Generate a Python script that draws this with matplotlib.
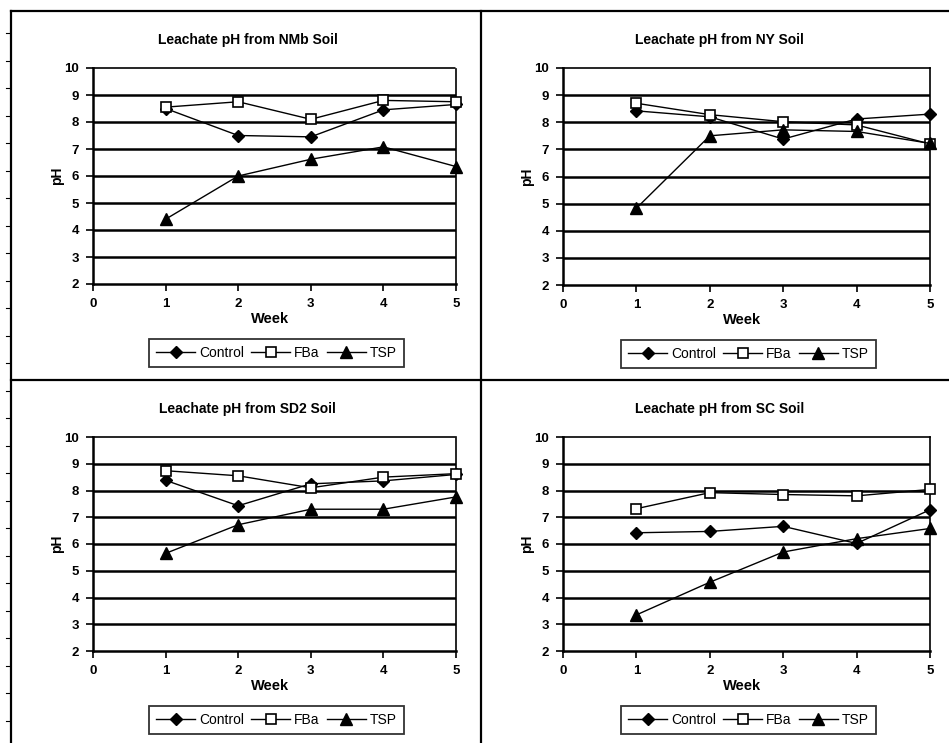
import numpy as np
import matplotlib
matplotlib.use("Agg")
import matplotlib.pyplot as plt
from matplotlib.lines import Line2D

plt.rcParams['font.family'] = ['Liberation Sans', 'DejaVu Sans']

W, H = 949, 743

weeks = [1, 2, 3, 4, 5]
series_names = ["Control", "FBa", "TSP"]

soils = ["NMb", "NY", "SD2", "SC"]

nmb_control = [8.5, 7.5, 7.45, 8.45, 8.65]
nmb_fba = [8.55, 8.75, 8.1, 8.8, 8.75]
nmb_tsp = [4.4, 6.0, 6.62, 7.08, 6.35]

ny_control = [8.42, 8.2, 7.38, 8.12, 8.3]
ny_fba = [8.7, 8.28, 8.02, 7.9, 7.2]
ny_tsp = [4.83, 7.5, 7.72, 7.66, 7.22]

sd2_control = [8.38, 7.43, 8.25, 8.36, 8.6]
sd2_fba = [8.74, 8.55, 8.1, 8.5, 8.63]
sd2_tsp = [5.65, 6.72, 7.3, 7.3, 7.76]

sc_control = [6.42, 6.47, 6.66, 6.02, 7.28]
sc_fba = [7.32, 7.92, 7.85, 7.8, 8.04]
sc_tsp = [3.35, 4.57, 5.7, 6.2, 6.58]

data = {
    "NMb": (nmb_control, nmb_fba, nmb_tsp),
    "NY": (ny_control, ny_fba, ny_tsp),
    "SD2": (sd2_control, sd2_fba, sd2_tsp),
    "SC": (sc_control, sc_fba, sc_tsp),
}

x_ticks = [0, 1, 2, 3, 4, 5]
y_ticks = [2, 3, 4, 5, 6, 7, 8, 9, 10]

# plot-area boxes in pixels: left, top, right, bottom
boxes = {
    "NMb": (93, 68, 456, 284),
    "NY": (563, 68, 930, 285),
    "SD2": (93, 437, 456, 651),
    "SC": (563, 437, 930, 651),
}

styles = [
    dict(marker="D", markersize=6, markerfacecolor="black", markeredgecolor="black"),
    dict(marker="s", markersize=7, markerfacecolor="white", markeredgecolor="black", markeredgewidth=1.2),
    dict(marker="^", markersize=8, markerfacecolor="black", markeredgecolor="black"),
]

fig = plt.figure(figsize=(W / 100, H / 100), dpi=100)


def fx(px):
    return px / W


def fy(py):
    return 1 - py / H


for soil in soils:
    l, t, r, b = boxes[soil]
    ax = fig.add_axes([fx(l), fy(b), (r - l) / W, (b - t) / H])
    ax.set_xlim(0, 5)
    ax.set_ylim(2, 10)
    for yv in y_ticks[1:-1]:
        ax.axhline(yv, color="black", lw=1.8, zorder=1)
    for vals, name, st in zip(data[soil], series_names, styles):
        ax.plot(weeks, vals, color="black", lw=1.0, label=name, zorder=3,
                clip_on=False, **st)
    ax.set_xticks(x_ticks)
    ax.set_yticks(y_ticks)
    ax.tick_params(axis="both", direction="out", length=5, width=1.2,
                   labelsize=9.5, pad=5, color="black")
    for lab in ax.get_xticklabels() + ax.get_yticklabels():
        lab.set_fontweight("bold")
    ax.spines["left"].set_linewidth(1.8)
    ax.spines["bottom"].set_linewidth(1.8)
    ax.spines["top"].set_linestyle((0, (1, 1)))
    ax.spines["top"].set_linewidth(1.2)
    ax.spines["right"].set_linestyle((0, (1, 1)))
    ax.spines["right"].set_linewidth(1.2)

    cx = (l + r) / 2
    fig.text(fx(cx - 27), fy(t - 28), f"Leachate pH from {soil} Soil",
             ha="center", va="center", fontsize=10, fontweight="heavy")
    fig.text(fx(l - 36), fy((t + b) / 2), "pH", rotation=90,
             ha="center", va="center", fontsize=10, fontweight="bold")
    fig.text(fx(cx - 4), fy(b + 35), "Week", ha="center", va="center",
             fontsize=10.5, fontweight="heavy")

    leg = ax.legend(loc="center", ncol=3,
                    bbox_to_anchor=(fx(cx + 2), fy(b + 69)),
                    bbox_transform=fig.transFigure, frameon=True,
                    fancybox=False, edgecolor="black", fontsize=10,
                    handlelength=2.8, handletextpad=0.3, columnspacing=0.5,
                    borderpad=0.5, borderaxespad=0)
    leg.get_frame().set_linewidth(1.3)

# sheet borders and dividers
line_kw = dict(color="black", lw=1.6, transform=fig.transFigure)
fig.add_artist(Line2D([fx(11), fx(11)], [fy(11), fy(743)], **line_kw))
fig.add_artist(Line2D([fx(11), fx(949)], [fy(11), fy(11)], **line_kw))
fig.add_artist(Line2D([fx(481), fx(481)], [fy(11), fy(743)], **line_kw))
fig.add_artist(Line2D([fx(11), fx(949)], [fy(380), fy(380)], **line_kw))

# small row marks along the left edge
for py in np.arange(33, 743, 27.5):
    fig.add_artist(Line2D([fx(6), fx(10)], [fy(py), fy(py)], color="black",
                          lw=0.8, transform=fig.transFigure))

fig.savefig("out.png", dpi=100)
